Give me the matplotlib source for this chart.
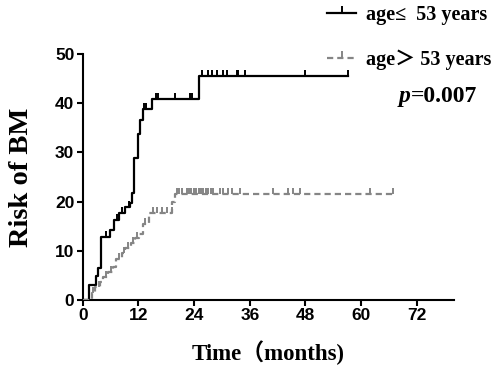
import numpy as np
import matplotlib
matplotlib.use("Agg")
import matplotlib.pyplot as plt
from matplotlib.lines import Line2D

# step curves (months, cumulative risk %)
young_times = [0, 1.4, 2.8, 3.3, 4.0, 5.8, 6.8, 7.9, 9.2, 10.2, 10.6, 11.0, 12.0, 12.4, 12.9, 15.0, 25.0]
young_risk = [0, 3.0, 4.8, 6.6, 12.8, 14.3, 16.2, 17.6, 18.9, 19.8, 21.7, 28.8, 33.8, 36.5, 38.9, 40.9, 45.6]
young_end = 57.2
young_censor = [5.0, 7.3, 8.4, 9.9, 13.2, 13.6, 15.9, 16.3, 19.9, 23.1, 23.5,
                25.6, 26.9, 27.9, 29.0, 30.2, 31.0, 33.2, 33.5, 35.0, 47.9, 57.2]

old_times = [0, 1.9, 2.7, 3.8, 4.3, 5.4, 6.6, 7.1, 8.4, 9.2, 10.3, 11.3, 12.1, 13.0, 14.3, 19.3, 19.8]
old_risk = [0, 1.4, 2.7, 3.6, 4.7, 5.6, 6.8, 8.4, 9.5, 10.5, 11.5, 12.5, 13.5, 15.5, 17.6, 19.9, 21.6]
old_end = 67.2
old_censor = [2.3, 3.5, 5.0, 6.1, 7.8, 8.9, 9.8, 10.8, 11.7, 13.5,
              15.2, 16.1, 17.0, 18.1, 19.2,
              20.3, 20.8, 21.3, 22.4, 22.9, 23.4, 23.9, 24.4, 25.0, 25.5, 26.0, 26.5, 27.0,
              27.6, 28.1, 29.6, 30.3, 31.4, 32.1, 33.9, 41.1, 44.3, 45.4, 46.9, 61.9, 66.9]

x_ticks = [0, 12, 24, 36, 48, 60, 72]
y_ticks = [0, 10, 20, 30, 40, 50]
labels = ["age\u2264  53 years", "age\uff1e 53 years"]
p_text = "=0.007"

BLACK = "#000000"
GREY = "#858585"
SERIF = ["Liberation Serif", "Noto Sans CJK SC", "DejaVu Sans"]
SANS = ["Liberation Sans", "DejaVu Sans"]


def risk_at(times, risk, t):
    idx = np.searchsorted(times, t, side="right") - 1
    return np.asarray(risk)[idx]


fig = plt.figure(figsize=(5.0, 3.68), dpi=100)
ax = fig.add_axes([0.1654, 0.1848, 0.7426, 0.6685])

curves = [
    (young_times, young_risk, young_end, young_censor, BLACK, "-"),
    (old_times, old_risk, old_end, old_censor, GREY, (0, (2.8, 1.8))),
]
handles = []
for (t, r, end, cens, col, ls), lab in zip(curves, labels):
    tt = list(t) + [end]
    rr = list(r) + [r[-1]]
    ax.step(tt, rr, where="post", color=col, lw=1.6, ls=ls, zorder=3)
    ax.plot(cens, risk_at(t, r, cens), ls="none", marker=2, ms=4.5, mew=1.4,
            color=col, zorder=3)
    handles.append(Line2D([0], [0], color=col, lw=1.6, ls=ls, marker=2, ms=5, mew=1.4,
                          label=lab))

ax.set_xlim(0, 80)
ax.set_ylim(0, 50)
ax.set_xticks(x_ticks)
ax.set_yticks(y_ticks)
for side in ("top", "right"):
    ax.spines[side].set_visible(False)
for side in ("left", "bottom"):
    ax.spines[side].set_linewidth(1.5)
ax.tick_params(width=1.5, length=4, direction="out", pad=2)
for lbl in ax.get_xticklabels() + ax.get_yticklabels():
    lbl.set_family(SANS)
    lbl.set_fontweight("bold")
    lbl.set_fontsize(12.5)

ax.set_xlabel("Time\uff08months)", family=SERIF, fontweight="bold", fontsize=16.5, labelpad=12)
ax.set_ylabel("Risk of BM", family=SERIF, fontweight="bold", fontsize=20.5, labelpad=15)

leg = fig.legend(handles=handles, loc="upper left", bbox_to_anchor=(0.638, 1.008),
                 frameon=False, handlelength=1.45, handletextpad=0.5, labelspacing=1.22,
                 borderaxespad=0.0, borderpad=0.4,
                 prop={"family": SERIF, "weight": "bold", "size": 14.5})

fig.text(0.822, 0.739, "p", family=SERIF, fontweight="bold", style="italic",
         fontsize=17, ha="right", va="center")
fig.text(0.822, 0.739, p_text, family=SERIF, fontweight="bold", fontsize=17,
         ha="left", va="center")

fig.savefig("out.png", dpi=100)
